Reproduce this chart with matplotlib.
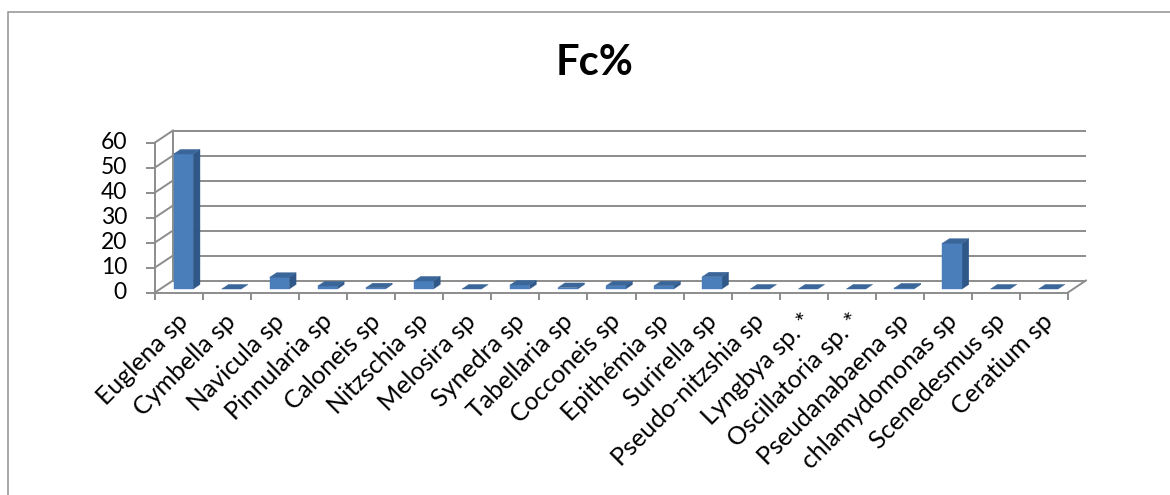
import matplotlib
matplotlib.use("Agg")
import matplotlib.pyplot as plt
from matplotlib.patches import Polygon

# ---- data -------------------------------------------------------------
species = [
    "Euglena sp", "Cymbella sp", "Navicula sp", "Pinnularia sp", "Caloneis sp",
    "Nitzschia sp", "Melosira sp", "Synedra sp", "Tabellaria sp", "Cocconeis sp",
    "Epithémia sp", "Surirella sp", "Pseudo-nitzshia sp", "Lyngbya sp. *",
    "Oscillatoria sp. *", "Pseudanabaena sp", "chlamydomonas sp",
    "Scenedesmus sp", "Ceratium sp",
]
fc_percent = [54.0, 0.0, 4.7, 1.2, 0.5, 3.2, 0.0, 1.6, 0.6, 1.3,
              1.3, 4.9, 0.0, 0.0, 0.0, 0.4, 18.3, 0.0, 0.0]
y_ticks = [0, 10, 20, 30, 40, 50, 60]
title = "Fc%"

# ---- layout / style ---------------------------------------------------
W, H, DPI = 1170, 495, 100
X0_PX, CAT_PX = 155.0, 48.05        # left end of front axis, px per category
Y0_PX, UNIT_PX = 292.5, 2.5         # front floor line, px per value unit
DEPTH_X = 18.0 / CAT_PX             # oblique shift of the back wall
DEPTH_Y = 12.0 / UNIT_PX
BAR_D0, BAR_D1 = 0.29, 0.67         # bar depth span (0 = front, 1 = back)
BAR_LEFT, BAR_W = 0.28, 0.405       # bar position inside a category

FRONT = "#4A7EBB"
SIDE = "#2F5888"
TOP = "#3B6699"
GRID = "#8C8C8C"
FONT = "Lato"

n = len(species)
fig = plt.figure(figsize=(W / DPI, H / DPI), dpi=DPI)
ax = fig.add_axes([0, 0, 1, 1])
ax.set_xlim(-X0_PX / CAT_PX, (W - X0_PX) / CAT_PX)
ax.set_ylim(-(H - Y0_PX) / UNIT_PX, Y0_PX / UNIT_PX)
ax.axis("off")


def px_x(p):
    return p / CAT_PX


def px_y(p):
    return p / UNIT_PX


def at_depth(x, v, d):
    return (x + d * DEPTH_X, v + d * DEPTH_Y)


lw = 1.4
# back wall grid lines
for v in y_ticks:
    a = at_depth(0, v, 1)
    b = at_depth(n, v, 1)
    ax.plot([a[0], b[0]], [a[1], b[1]], color=GRID, lw=lw, solid_capstyle="butt", zorder=1)
    # side wall diagonals
    c = at_depth(0, v, 0)
    ax.plot([c[0], a[0]], [c[1], a[1]], color=GRID, lw=lw, zorder=1)
    # tick marks on the value axis
    ax.plot([-px_x(8), 0], [v, v], color=GRID, lw=lw, zorder=1)
    ax.text(-px_x(28), v, str(v), ha="right", va="center",
            fontsize=16.5, family=FONT, color="black")

# side wall verticals
ax.plot([0, 0], [0, y_ticks[-1]], color=GRID, lw=lw, zorder=1)
bl = at_depth(0, 0, 1)
tl = at_depth(0, y_ticks[-1], 1)
ax.plot([bl[0], tl[0]], [bl[1], tl[1]], color=GRID, lw=lw, zorder=1)

# floor edges
ax.plot([0, n], [0, 0], color=GRID, lw=lw, zorder=4)
fr = at_depth(n, 0, 1)
ax.plot([n, fr[0]], [0, fr[1]], color=GRID, lw=lw, zorder=4)
for k in range(n + 1):
    ax.plot([k, k], [0, -px_y(6)], color=GRID, lw=lw, zorder=4)

# bars
for i, val in enumerate(fc_percent):
    xl = i + BAR_LEFT
    xr = xl + BAR_W
    f_bl = at_depth(xl, 0, BAR_D0)
    f_br = at_depth(xr, 0, BAR_D0)
    f_tl = at_depth(xl, val, BAR_D0)
    f_tr = at_depth(xr, val, BAR_D0)
    b_br = at_depth(xr, 0, BAR_D1)
    b_tl = at_depth(xl, val, BAR_D1)
    b_tr = at_depth(xr, val, BAR_D1)
    if val > 0:
        ax.add_patch(Polygon([f_br, b_br, b_tr, f_tr], closed=True,
                             facecolor=SIDE, edgecolor=SIDE, lw=0.3, zorder=3))
        ax.add_patch(Polygon([f_bl, f_br, f_tr, f_tl], closed=True,
                             facecolor=FRONT, edgecolor=FRONT, lw=0.3, zorder=3))
    ax.add_patch(Polygon([f_tl, f_tr, b_tr, b_tl], closed=True,
                         facecolor=TOP, edgecolor=TOP, lw=0.3, zorder=3))

# category labels
for i, name in enumerate(species):
    ax.text(i + 0.5 - px_x(3), -px_y(17), name, rotation=45,
            rotation_mode="anchor", ha="right", va="top",
            fontsize=18, family=FONT, color="black")

# title
ax.text(px_x(595 - X0_PX), px_y(Y0_PX - 63), title, ha="center", va="center",
        fontsize=30, fontweight="bold", family=FONT, color="black")

# chart area border (top and left edges visible)
ax.plot([px_x(7.5 - X0_PX), px_x(7.5 - X0_PX), px_x(W + 5 - X0_PX)],
        [px_y(Y0_PX - H - 5), px_y(Y0_PX - 11.5), px_y(Y0_PX - 11.5)],
        color="#A0A0A0", lw=1.3, clip_on=False)

fig.savefig("out.png", dpi=DPI)
